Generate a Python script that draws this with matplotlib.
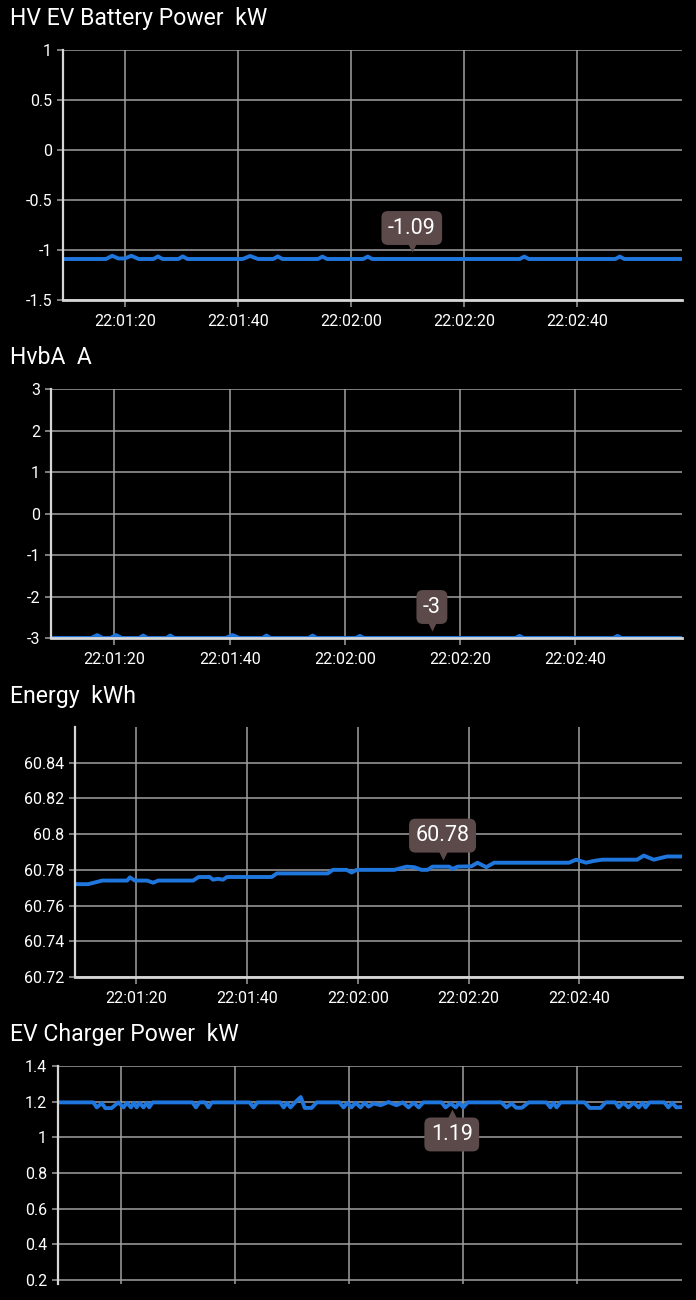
import matplotlib
matplotlib.use("Agg")
import matplotlib.pyplot as plt
from matplotlib.ticker import FixedLocator, FuncFormatter
from matplotlib.transforms import offset_copy

# time axis: seconds after 22:00:00
x_range = (69.0, 178.5)
time_ticks = [80, 100, 120, 140, 160]

# HV EV Battery Power (kW)
bat_t = [69.0, 76.6, 77.7, 78.8, 79.9, 81.1, 82.4,
         85.0, 85.8, 86.6, 89.4, 90.2, 91.0,
         100.8, 102.1, 103.5, 106.2, 107.0, 107.8,
         114.1, 114.9, 115.7, 122.1, 122.9, 123.7,
         149.8, 150.6, 151.4, 166.7, 167.5, 168.3, 178.5]
bat_v = [-1.09, -1.09, -1.058, -1.085, -1.085, -1.058, -1.09,
         -1.09, -1.064, -1.09, -1.09, -1.064, -1.09,
         -1.09, -1.06, -1.09, -1.09, -1.064, -1.09,
         -1.09, -1.066, -1.09, -1.09, -1.066, -1.09,
         -1.09, -1.066, -1.09, -1.09, -1.066, -1.09, -1.09]
bat_ticks = [-1.5, -1, -0.5, 0, 0.5, 1]

# HvbA (A)
hvb_t = [69.0, 76.0, 77.0, 78.0, 79.3, 80.3, 81.3,
         84.3, 85.0, 85.7, 89.0, 89.7, 90.4,
         99.3, 100.5, 101.7, 105.7, 106.4, 107.1,
         113.7, 114.4, 115.1, 121.9, 122.6, 123.3,
         149.6, 150.3, 151.0, 166.6, 167.3, 168.0, 178.5]
hvb_v = [-3, -3, -2.93, -3, -3, -2.93, -3,
         -3, -2.94, -3, -3, -2.94, -3,
         -3, -2.93, -3, -3, -2.94, -3,
         -3, -2.94, -3, -3, -2.95, -3,
         -3, -2.95, -3, -3, -2.95, -3, -3]
hvb_ticks = [-3, -2, -1, 0, 1, 2, 3]

# Energy (kWh)
eng_t = [69.0, 71.4, 73.9, 78.4, 78.9, 79.8, 82.0, 83.1, 84.0, 90.3, 91.3,
         93.3, 93.9, 94.8, 95.7, 96.4, 104.5, 105.4, 114.6, 115.5, 118.0,
         118.9, 119.8, 126.6, 128.8, 130.2, 131.5, 132.6, 133.5, 136.5,
         137.1, 138.0, 140.5, 141.6, 143.2, 144.6, 158.1, 159.4, 161.2,
         162.6, 164.1, 170.4, 171.6, 173.4, 175.8, 178.5]
eng_v = [60.772, 60.772, 60.774, 60.774, 60.7758, 60.774, 60.774, 60.7728,
         60.774, 60.774, 60.776, 60.776, 60.7745, 60.775, 60.7745, 60.776,
         60.776, 60.778, 60.778, 60.780, 60.780, 60.7785, 60.780, 60.780,
         60.7818, 60.7815, 60.780, 60.780, 60.7818, 60.7818, 60.7805,
         60.7818, 60.782, 60.784, 60.7815, 60.784, 60.784, 60.7857, 60.784,
         60.785, 60.7857, 60.7857, 60.788, 60.7857, 60.7875, 60.7875]
eng_ticks = [60.72, 60.74, 60.76, 60.78, 60.8, 60.82, 60.84]

# EV Charger Power (kW)
chg_t = [69.0, 75.2, 75.8, 76.7, 77.3, 78.4, 79.6, 80.5, 81.1, 81.8, 82.3,
         82.8, 83.3, 84.0, 84.6, 85.0, 85.6,
         92.6, 93.2, 93.8, 94.8, 95.4, 96.0, 102.6, 103.3, 104.0,
         108.0, 108.6, 109.2, 109.8, 110.6, 111.6, 112.3, 113.5, 114.4,
         118.4, 119.1, 119.8, 120.5, 121.2, 122.1, 122.8, 123.5, 124.4,
         125.6, 127.0, 128.4, 129.5, 130.5, 131.4, 132.3, 133.1,
         136.3, 137.0, 137.9, 138.8, 139.4, 140.1, 140.9,
         146.8, 147.7, 148.6, 149.4, 150.4, 151.6,
         154.7, 155.4, 155.9, 156.5, 157.2,
         161.4, 162.3, 164.2, 165.1,
         166.8, 167.4, 168.2, 169.1, 170.0, 170.9, 171.6, 172.1, 172.8,
         175.4, 176.1, 176.8, 177.5, 178.5]
chg_v = [1.196, 1.196, 1.168, 1.192, 1.164, 1.164, 1.196, 1.168, 1.194, 1.168, 1.194,
         1.168, 1.194, 1.168, 1.194, 1.168, 1.196,
         1.196, 1.168, 1.196, 1.196, 1.168, 1.196, 1.196, 1.168, 1.196,
         1.196, 1.168, 1.194, 1.168, 1.196, 1.226, 1.165, 1.165, 1.196,
         1.196, 1.168, 1.194, 1.168, 1.194, 1.168, 1.194, 1.172, 1.19,
         1.18, 1.198, 1.18, 1.196, 1.168, 1.194, 1.168, 1.196,
         1.196, 1.168, 1.19, 1.168, 1.194, 1.168, 1.196,
         1.196, 1.168, 1.19, 1.166, 1.166, 1.196,
         1.196, 1.168, 1.194, 1.168, 1.196,
         1.196, 1.165, 1.165, 1.196,
         1.196, 1.168, 1.194, 1.168, 1.194, 1.168, 1.194, 1.168, 1.196,
         1.196, 1.168, 1.194, 1.168, 1.17]
chg_ticks = [0.2, 0.4, 0.6, 0.8, 1, 1.2, 1.4]

W, H = 696, 1300
LINE = "#1f76dc"
GRID = "#a0a0a0"
AXIS = "#d6d6d6"
TIP = "#5c4a4a"
FONT = ["Roboto", "DejaVu Sans"]

plt.rcParams["font.family"] = FONT
plt.rcParams["axes.unicode_minus"] = False


def fmt_val(v, pos=None):
    if abs(v) < 1e-9:
        return "0"
    return f"{round(v, 4):g}"


def fmt_time(s, pos=None):
    s = int(round(s))
    return f"22:{s // 60:02d}:{s % 60:02d}"


fig = plt.figure(figsize=(W / 100, H / 100), dpi=100, facecolor="black")


def make_axes(left, right, top, bottom):
    return fig.add_axes([left / W, 1 - bottom / H, (right - left) / W, (bottom - top) / H])


def style(ax, ylim, yticks, show_x=True):
    ax.set_facecolor("black")
    ax.set_xlim(*x_range)
    ax.set_ylim(*ylim)
    ax.yaxis.set_major_locator(FixedLocator(yticks))
    ax.yaxis.set_major_formatter(FuncFormatter(fmt_val))
    ax.xaxis.set_major_locator(FixedLocator(time_ticks))
    ax.xaxis.set_major_formatter(FuncFormatter(fmt_time))
    ax.grid(True, color=GRID, lw=1.1)
    ax.set_axisbelow(True)
    for side in ("top", "right"):
        ax.spines[side].set_visible(False)
    ax.spines["left"].set_color(AXIS)
    ax.spines["left"].set_linewidth(1.6)
    ax.spines["bottom"].set_color(AXIS)
    ax.spines["bottom"].set_linewidth(2.0)
    ax.tick_params(axis="y", colors=GRID, labelcolor="white", labelsize=11.5,
                   length=4, width=1.1, pad=4)
    ax.tick_params(axis="x", colors=GRID, labelcolor="white", labelsize=11.5,
                   length=5, width=1.1, pad=5)
    if not show_x:
        ax.spines["bottom"].set_visible(False)
        ax.tick_params(axis="x", length=0, labelbottom=False)


def tooltip(ax, t, v, label, above=True):
    box_dy = 31 if above else -31
    tip_dy = 12 if above else -11
    ax.annotate(label, xy=(t, v), xytext=(0, box_dy), textcoords="offset pixels",
                ha="center", va="center", color="white", fontsize=15.5,
                bbox=dict(boxstyle="round,pad=0.3,rounding_size=0.3", fc=TIP, ec="none"),
                zorder=5)
    tr = offset_copy(ax.transData, fig=fig, x=0, y=tip_dy, units="dots")
    ax.plot([t], [v], transform=tr, marker="v" if above else "^", ms=7,
            color=TIP, mec="none", zorder=5, clip_on=False)


def title(y, text):
    fig.text(10 / W, 1 - y / H, text, color="white", fontsize=16.6, ha="left", va="center")


# panel 1
ax1 = make_axes(63, 682, 50, 300)
style(ax1, (-1.5, 1), bat_ticks)
ax1.plot(bat_t, bat_v, color=LINE, lw=2.8, solid_joinstyle="round")
tooltip(ax1, 130.7, -1.09, "-1.09")
title(18, "HV EV Battery Power  kW")

# panel 2
ax2 = make_axes(51, 682, 389, 638)
style(ax2, (-3, 3), hvb_ticks)
ax2.plot(hvb_t, hvb_v, color=LINE, lw=2.8, solid_joinstyle="round")
tooltip(ax2, 135.1, -3, "-3")
title(357, "HvbA  A")

# panel 3
ax3 = make_axes(75, 682, 727, 977)
style(ax3, (60.72, 60.86), eng_ticks)
ax3.plot(eng_t, eng_v, color=LINE, lw=2.8, solid_joinstyle="round")
tooltip(ax3, 135.3, 60.7818, "60.78")
title(696, "Energy  kWh")

# panel 4
ax4 = make_axes(58, 682, 1066, 1284)
style(ax4, (0.178, 1.4), chg_ticks, show_x=False)
ax4.plot(chg_t, chg_v, color=LINE, lw=2.8, solid_joinstyle="round")
tooltip(ax4, 138.1, 1.19, "1.19", above=False)
title(1035, "EV Charger Power  kW")

fig.savefig("out.png", dpi=100, facecolor="black")
